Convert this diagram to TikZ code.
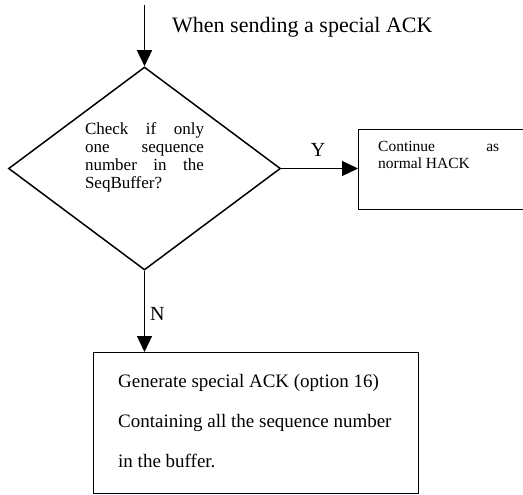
\documentclass[tikz,border=0pt]{standalone}
\usepackage{fontspec}
\setmainfont{Liberation Serif}
\usetikzlibrary{shapes.geometric,arrows.meta,calc}
\begin{document}
\begin{tikzpicture}[x=1pt,y=-1pt,
  arr/.style={line width=1.3pt,-{Triangle[length=16pt,width=15pt]}},
  boxline/.style={draw,line width=1pt},
  small/.style={font=\fontsize{17}{18}\selectfont},
  rsmall/.style={font=\fontsize{15.5}{17}\selectfont},
  big/.style={font=\fontsize{19}{40}\selectfont},
  lab/.style={font=\fontsize{20}{24}\selectfont},
]
\useasboundingbox (0,0) rectangle (523,495);
\clip (0,0) rectangle (523,495);
% decision
\node[draw, shape=diamond, line width=1.5pt, minimum width=272pt, minimum height=203pt, inner sep=0pt] (d) at (144.5,168.5) {};
\node[small, align=left, inner sep=0pt] (dtext) at (144.5,157) {\makebox[119pt][s]{Check if only}\\\makebox[119pt][s]{one sequence}\\\makebox[119pt][s]{number in the}\\SeqBuffer?};
% right box
\node[boxline, minimum width=200pt, minimum height=80pt, anchor=north west, inner sep=0pt] (rbox) at (358,129) {};
\node[rsmall, align=left, inner sep=0pt, anchor=north west] (rtext) at ($(rbox.north west)+(20,12)$) {\makebox[121pt][s]{Continue as}\\normal HACK};
% bottom box
\node[boxline, minimum width=325pt, minimum height=141pt, anchor=north west, inner sep=0pt] (bbox) at (93,352) {};
\node[big, align=left, anchor=north west, inner sep=0pt] (btext) at (118,374) {Generate special ACK (option 16)\\Containing all the sequence number\\in the buffer.};
% top text and arrow
\node[font=\fontsize{22}{26}\selectfont, anchor=base west, inner sep=0pt] (toptext) at (172,33) {When sending a special ACK};
\coordinate (s) at (144.5,5);
\draw[arr] (s) -- (s |- d.north);
% branches
\draw[arr] (d.east) -- (d.east -| rbox.west);
\node[lab, anchor=base, inner sep=0pt] (ylab) at (318,157) {Y};
\draw[arr] (d.south) -- (d.south |- bbox.north);
\node[lab, anchor=base west, inner sep=0pt] (nlab) at (150,320) {N};
\end{tikzpicture}
\end{document}
